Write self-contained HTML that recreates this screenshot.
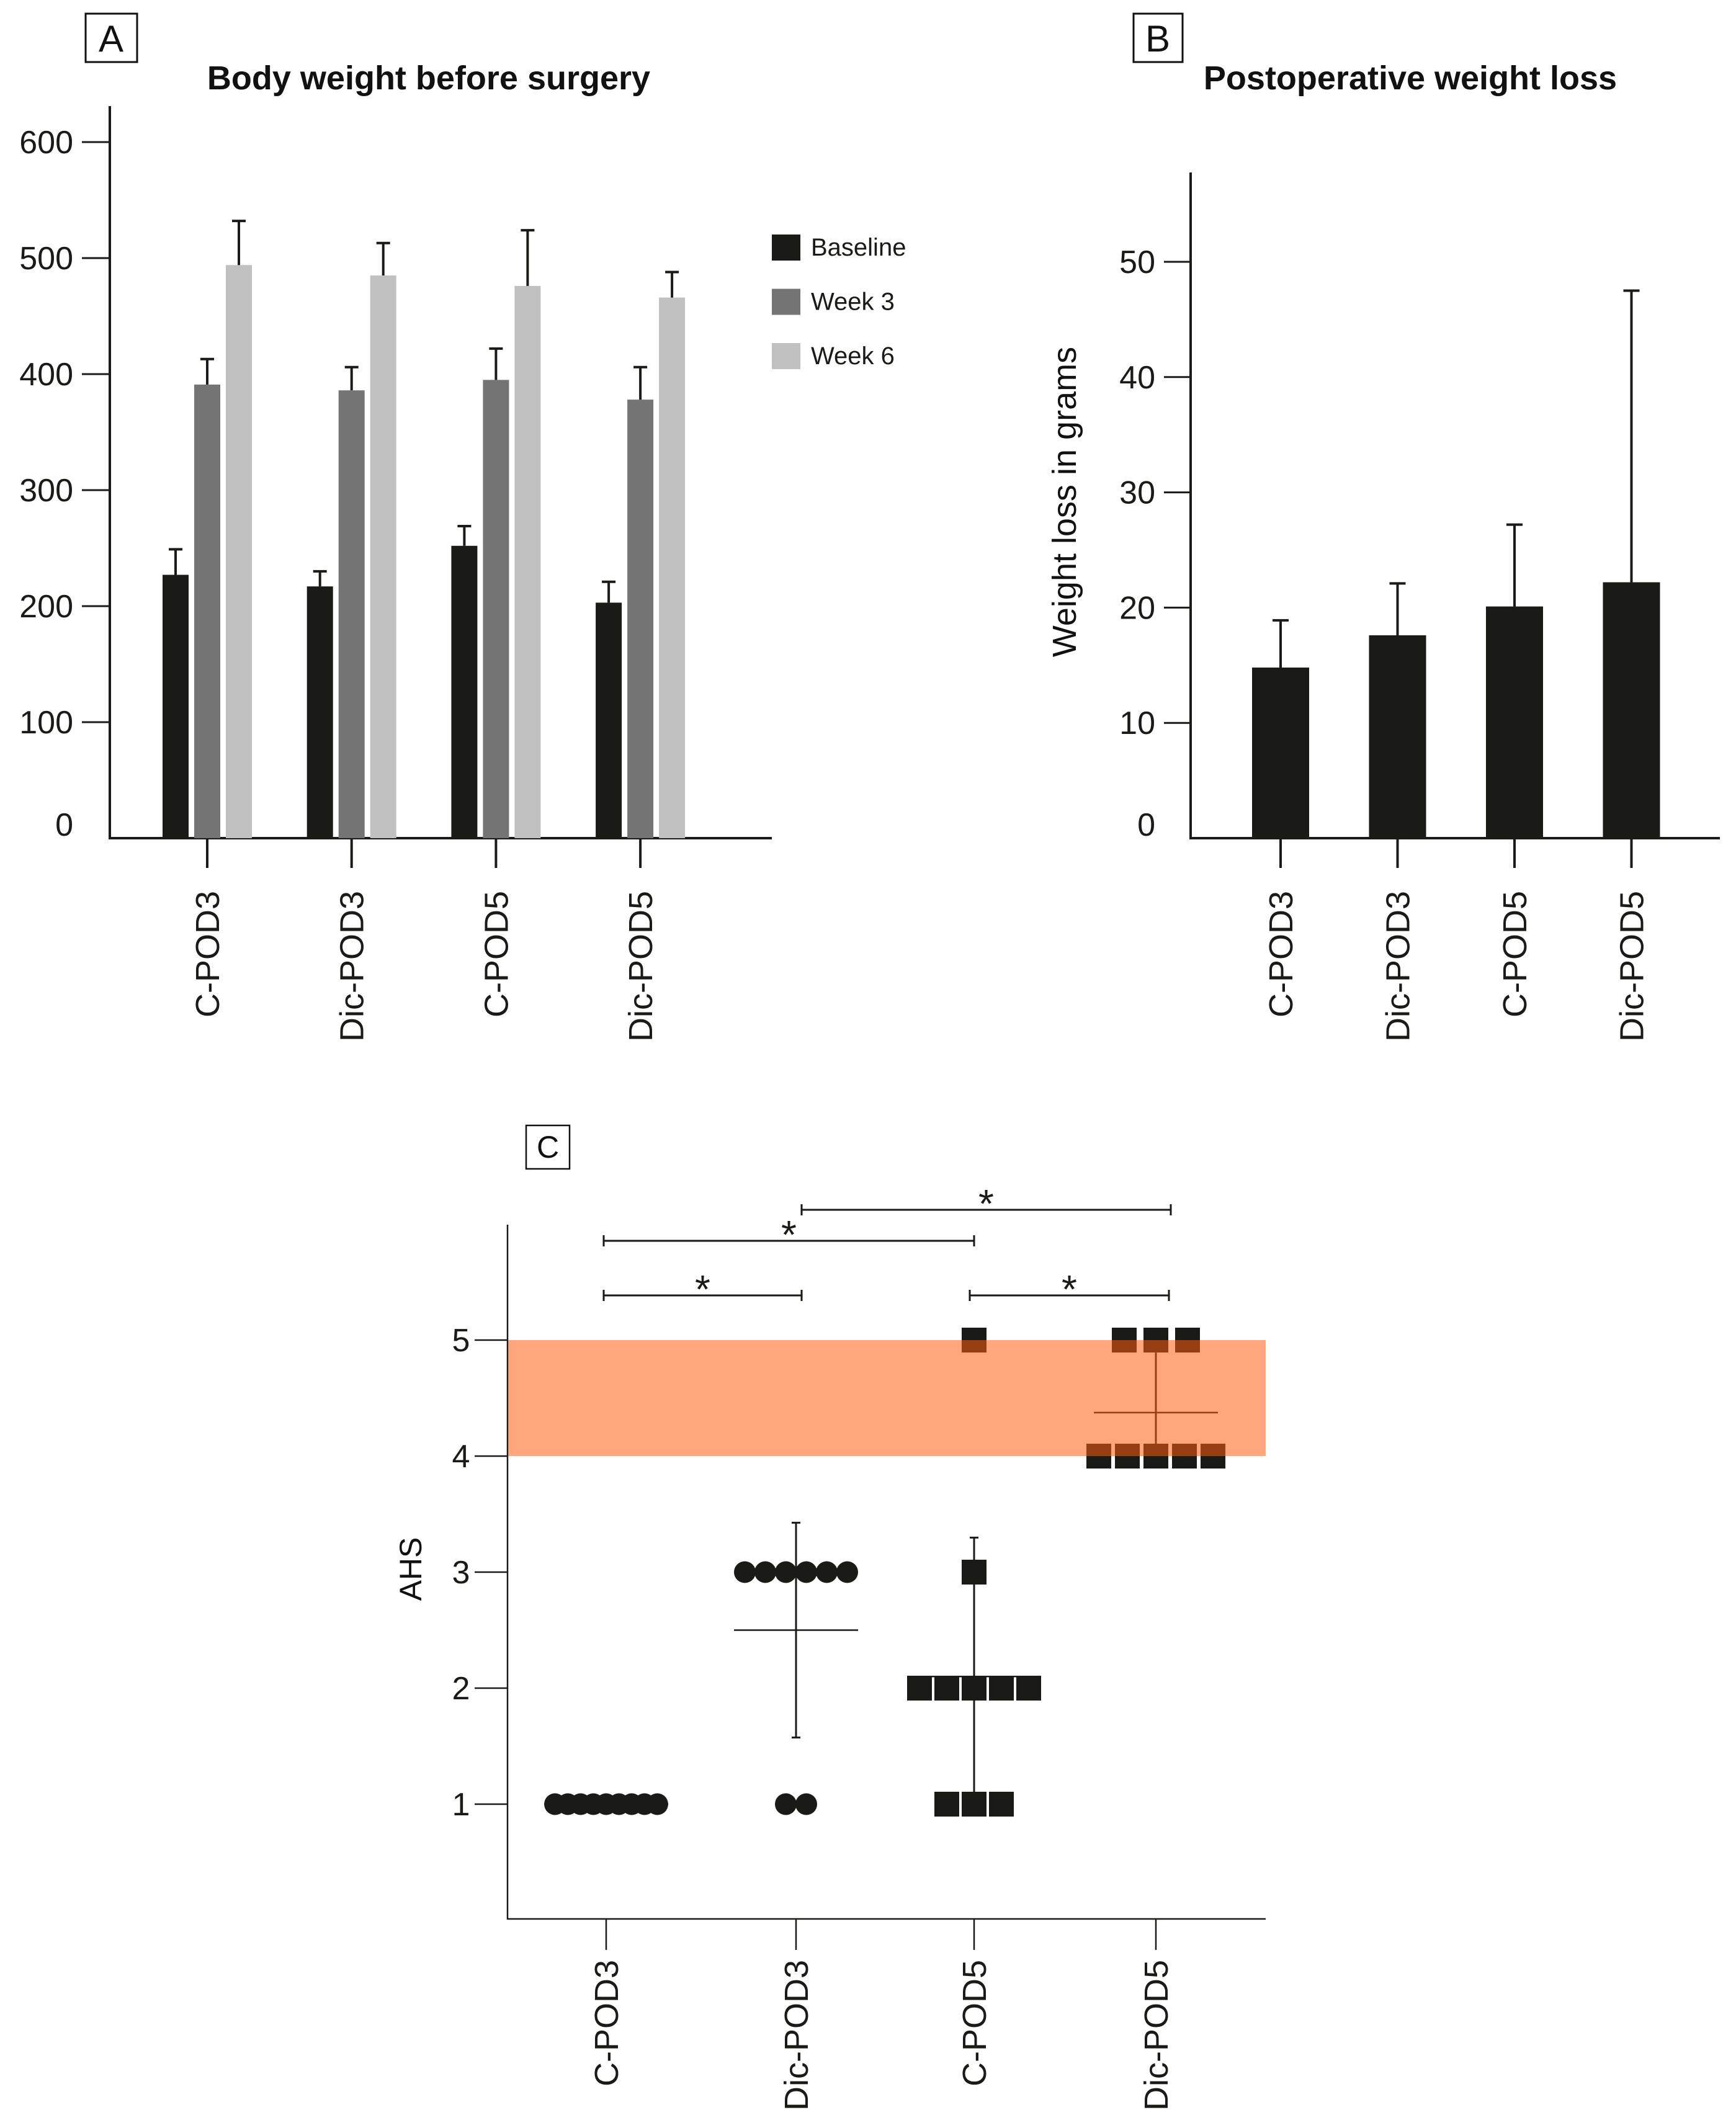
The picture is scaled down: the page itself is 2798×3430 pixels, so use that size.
<!DOCTYPE html>
<html><head><meta charset="utf-8">
<style>
html,body{margin:0;padding:0;background:#fff;}
svg{display:block;font-family:"Liberation Sans",sans-serif;}
</style></head>
<body>
<svg id="fig" xmlns="http://www.w3.org/2000/svg" width="2798" height="3430" viewBox="0 0 2798 3430">
<rect x="0" y="0" width="2798" height="3430" fill="#fff"/>
<g id="pa">
 <rect x="138" y="22" width="83" height="78" fill="none" stroke="#111" stroke-width="3"/>
 <text x="179" y="83" font-size="60" text-anchor="middle" fill="#111">A</text>
 <text x="691" y="144" font-size="54" font-weight="bold" text-anchor="middle" fill="#111">Body weight before surgery</text>
</g>
<g id="pb">
 <rect x="1827" y="22" width="79" height="78" fill="none" stroke="#111" stroke-width="3"/>
 <text x="1866" y="83" font-size="60" text-anchor="middle" fill="#111">B</text>
 <text x="2273" y="144" font-size="54" font-weight="bold" text-anchor="middle" fill="#111">Postoperative weight loss</text>
 <text x="0" y="0" font-size="54" text-anchor="middle" fill="#111" transform="translate(1734,809) rotate(-90)">Weight loss in grams</text>
</g>
<g id="pc">
 <rect x="848" y="1814" width="70" height="70" fill="none" stroke="#111" stroke-width="2.5"/>
 <text x="883" y="1866" font-size="50" text-anchor="middle" fill="#111">C</text>
 <text x="0" y="0" font-size="50" text-anchor="middle" fill="#111" transform="translate(679,2529) rotate(-90)">AHS</text>
</g>
</svg>
<script>
// ---------- Panel A data ----------
const catsA = ["C-POD3","Dic-POD3","C-POD5","Dic-POD5"];
const seriesA = ["Baseline","Week 3","Week 6"];
const baselineVals = [227, 217, 252, 203];
const week3Vals = [391, 386, 395, 378];
const week6Vals = [494, 485, 476, 466];
const baselineErr = [249, 230, 269, 221];
const week3Err = [413, 406, 422, 406];
const week6Err = [532, 513, 524, 488];
const ticksA = [0,100,200,300,400,500,600];
// ---------- Panel B data ----------
const catsB = ["C-POD3","Dic-POD3","C-POD5","Dic-POD5"];
const lossVals = [14.8, 17.6, 20.1, 22.2];
const lossErr = [18.9, 22.1, 27.2, 47.5];
const ticksB = [0,10,20,30,40,50];
// ---------- Panel C data ----------
const catsC = ["C-POD3","Dic-POD3","C-POD5","Dic-POD5"];
const ahsCPOD3 = [1,1,1,1,1,1,1,1,1];
const ahsDicPOD3 = [3,3,3,3,3,3,1,1];
const ahsCPOD5 = [5,3,2,2,2,2,2,1,1,1];
const ahsDicPOD5 = [5,5,5,4,4,4,4,4];
const ticksC = [1,2,3,4,5];
const sigFrom = [1,0,0,2];
const sigTo = [3,2,1,3];
const sigLevel = [3,2,1,1];
const bandLow = 4, bandHigh = 5;

const NS="http://www.w3.org/2000/svg";
const svg=document.getElementById('fig');
function mk(tag,attrs,parent){const e=document.createElementNS(NS,tag);for(const k in attrs)e.setAttribute(k,attrs[k]);(parent||svg).appendChild(e);return e;}
const INK="#1a1a16";

// ===== Panel A =====
const pa=document.getElementById('pa');
const yA=v=>1351-v*1.87;
const xA=i=>334+i*232.7;
mk('line',{x1:177,y1:171,x2:177,y2:1353,stroke:INK,'stroke-width':4},pa);
mk('line',{x1:175,y1:1351,x2:1244,y2:1351,stroke:INK,'stroke-width':4},pa);
ticksA.forEach(t=>{
  if(t>0){const l=mk('line',{x1:132,y1:yA(t),x2:177,y2:yA(t),stroke:INK,'stroke-width':3},pa);
  
  }
  const tx=mk('text',{x:118,y:(t===0?yA(t)-4:yA(t)+18),'font-size':52,'text-anchor':'end',fill:INK},pa);
  tx.textContent=t;
  
  
});
const colsA=["#1a1a16","#747474","#c0c0c0"];
const valsA=[baselineVals,week3Vals,week6Vals];
const errsA=[baselineErr,week3Err,week6Err];
catsA.forEach((c,i)=>{
  const cx=xA(i);
  valsA.forEach((vals,s)=>{
    const bx=cx+(s-1)*51;
    const r=mk('rect',{x:bx-21,y:yA(vals[i]),width:42,height:yA(0)-yA(vals[i]),fill:colsA[s]},pa);
    
    
    const e=mk('path',{d:`M${bx} ${yA(vals[i])} V${yA(errsA[s][i])} M${bx-11} ${yA(errsA[s][i])} H${bx+11}`,stroke:INK,'stroke-width':4,fill:'none'},pa);
    
    
  });
  const tk=mk('line',{x1:cx,y1:1351,x2:cx,y2:1399,stroke:INK,'stroke-width':4},pa);
  
  
  const lb=mk('text',{x:0,y:0,'font-size':54,'text-anchor':'end',fill:INK,transform:`translate(${cx+19},1436) rotate(-90)`},pa);
  lb.textContent=c;
  
  
});
seriesA.forEach((s,k)=>{
  const yy=378+k*87.5;
  const r=mk('rect',{x:1244,y:yy,width:46,height:42,fill:colsA[k]},pa);
  
  
  const t=mk('text',{x:1307,y:yy+34,'font-size':40,fill:INK},pa);
  t.textContent=s;
  
  
});

// ===== Panel B =====
const pb=document.getElementById('pb');
const yB=v=>1351-v*18.58;
const xB=i=>2064+i*188.5;
mk('line',{x1:1919,y1:278,x2:1919,y2:1353,stroke:INK,'stroke-width':4},pb);
mk('line',{x1:1917,y1:1351,x2:2772,y2:1351,stroke:INK,'stroke-width':4},pb);
ticksB.forEach(t=>{
  if(t>0){const l=mk('line',{x1:1876,y1:yB(t),x2:1919,y2:yB(t),stroke:INK,'stroke-width':3},pb);
  
  }
  const tx=mk('text',{x:1862,y:(t===0?yB(t)-4:yB(t)+18),'font-size':52,'text-anchor':'end',fill:INK},pb);
  tx.textContent=t;
  
  
});
catsB.forEach((c,i)=>{
  const cx=xB(i);
  const r=mk('rect',{x:cx-46,y:yB(lossVals[i]),width:92,height:yB(0)-yB(lossVals[i]),fill:INK},pb);
  
  
  const e=mk('path',{d:`M${cx} ${yB(lossVals[i])} V${yB(lossErr[i])} M${cx-13} ${yB(lossErr[i])} H${cx+13}`,stroke:INK,'stroke-width':4,fill:'none'},pb);
  
  
  const tk=mk('line',{x1:cx,y1:1351,x2:cx,y2:1399,stroke:INK,'stroke-width':4},pb);
  
  
  const lb=mk('text',{x:0,y:0,'font-size':54,'text-anchor':'end',fill:INK,transform:`translate(${cx+19},1436) rotate(-90)`},pb);
  lb.textContent=c;
  
  
});

// ===== Panel C =====
const pc=document.getElementById('pc');
const yC=v=>2160-(v-5)*187;
const xCpos=[977,1283,1570,1863];
const bracketPos=[973,1292,1567,1884];
const xC=i=>xCpos[i];
mk('line',{x1:818,y1:1974,x2:818,y2:3094,stroke:INK,'stroke-width':2.5},pc);
mk('line',{x1:817,y1:3093,x2:2040,y2:3093,stroke:INK,'stroke-width':2.5},pc);
ticksC.forEach(t=>{
  const l=mk('line',{x1:765,y1:yC(t),x2:818,y2:yC(t),stroke:INK,'stroke-width':2.5},pc);
  
  
  const tx=mk('text',{x:743,y:yC(t)+18,'font-size':52,'text-anchor':'middle',fill:INK},pc);
  tx.textContent=t;
  
  
});
const groupsC=[ahsCPOD3,ahsDicPOD3,ahsCPOD5,ahsDicPOD5];
const stepC=[20.6,33,44,46];
const circleGroup=[true,true,false,false];
catsC.forEach((c,i)=>{
  const cx=xC(i), vals=groupsC[i];
  const tk=mk('line',{x1:cx,y1:3093,x2:cx,y2:3143,stroke:INK,'stroke-width':2.5},pc);
  
  
  const lb=mk('text',{x:0,y:0,'font-size':54,'text-anchor':'end',fill:INK,transform:`translate(${cx+19},3159) rotate(-90)`},pc);
  lb.textContent=c;
  
  
  const counts={};vals.forEach(v=>counts[v]=(counts[v]||0)+1);
  const seen={};
  vals.forEach(v=>{
    const n=counts[v];const k=seen[v]=(seen[v]===undefined?0:seen[v]+1);
    const st=(i===3&&v===5)?51:stepC[i];
    const px=cx+(k-(n-1)/2)*st, py=yC(v);
    let m;
    if(circleGroup[i]) m=mk('circle',{cx:px,cy:py,r:17.5,fill:INK},pc);
    else m=mk('rect',{x:px-20,y:py-20,width:40,height:40,fill:INK},pc);
    
    
  });
  const mean=vals.reduce((a,b)=>a+b,0)/vals.length;
  const sd=Math.sqrt(vals.reduce((a,b)=>a+(b-mean)*(b-mean),0)/(vals.length-1));
  const ml=mk('line',{x1:cx-100,y1:yC(mean),x2:cx+100,y2:yC(mean),stroke:INK,'stroke-width':2.5},pc);
  
  
  if(sd>0){
    const caps = i===3 ? '' : ` M${cx-7} ${yC(mean+sd)} H${cx+7} M${cx-7} ${yC(mean-sd)} H${cx+7}`;
    const lo = i===3 ? Math.max(mean-sd,4) : mean-sd;
    const hi = i===3 ? Math.min(mean+sd,5) : mean+sd;
    const sb=mk('path',{d:`M${cx} ${yC(hi)} V${yC(lo)}`+caps,stroke:INK,'stroke-width':3,fill:'none'},pc);
    
    
  }
});
const band=mk('rect',{x:819,y:yC(bandHigh),width:2040-819,height:yC(bandLow)-yC(bandHigh),fill:'rgb(255,95,16)','fill-opacity':0.55},pc);


const sigY=[0,2088,2000,1950];
sigFrom.forEach((f,k)=>{
  let x1=bracketPos[f], x2=bracketPos[sigTo[k]];
  if(sigLevel[k]===1 && f===2) x1=1563;
  if(sigLevel[k]===2 && sigTo[k]===2) x2=1570;
  if(sigLevel[k]===3) x2=1887;
  const y=sigY[sigLevel[k]];
  const b=mk('path',{d:`M${x1} ${y} H${x2} M${x1} ${y-9} V${y+9} M${x2} ${y-9} V${y+9}`,stroke:INK,'stroke-width':3,fill:'none'},pc);
  
  
  const s=mk('text',{x:(x1+x2)/2,y:y+12,'font-size':64,'text-anchor':'middle',fill:INK},pc);
  s.textContent='*';
  
  
});
</script>
</body></html>
